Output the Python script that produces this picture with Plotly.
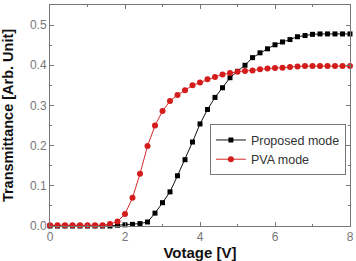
import numpy as np
import plotly.graph_objects as go

voltage = [round(0.2 * i, 1) for i in range(41)]

proposed = [0, 0, 0, 0, 0, 0, 0, 0, 0, 0.002,
            0.003, 0.004, 0.006, 0.01, 0.032, 0.058, 0.085, 0.125, 0.165, 0.209,
            0.254, 0.290, 0.320, 0.344, 0.369, 0.385, 0.400, 0.419, 0.431, 0.441,
            0.451, 0.458, 0.464, 0.471, 0.474, 0.477, 0.478, 0.478, 0.478, 0.478, 0.478]

pva = [0.002, 0.002, 0.002, 0.002, 0.002, 0.002, 0.002, 0.002, 0.005, 0.011,
       0.030, 0.070, 0.130, 0.199, 0.250, 0.286, 0.311, 0.326, 0.338, 0.350,
       0.357, 0.365, 0.371, 0.377, 0.381, 0.384, 0.386, 0.387, 0.390, 0.392,
       0.393, 0.394, 0.396, 0.397, 0.398, 0.398, 0.398, 0.398, 0.398, 0.398, 0.398]

x_ticks = [0, 2, 4, 6, 8]
y_ticks = [0.0, 0.1, 0.2, 0.3, 0.4, 0.5]
y_labels = ["0.0", "0.1", "0.2", "0.3", "0.4", "0.5"]

FONT = "Liberation Sans, Arial"

fig = go.Figure()
fig.add_trace(go.Scatter(x=voltage, y=proposed, mode="lines+markers", name="Proposed mode",
                         line=dict(color="#111111", width=1),
                         marker=dict(symbol="square", size=5, color="#000000"),
                         cliponaxis=False))
fig.add_trace(go.Scatter(x=voltage, y=pva, mode="lines+markers", name="PVA mode",
                         line=dict(color="#d62a2a", width=1),
                         marker=dict(symbol="circle", size=6, color="#d41c1c"),
                         cliponaxis=False))

axis_common = dict(showgrid=False, zeroline=False, showline=True, linecolor="#777777",
                   linewidth=1, mirror="ticks", ticks="inside", ticklen=4, tickcolor="#777777",
                   automargin=False,
                   tickfont=dict(family=FONT, size=12, color="#777777"))

fig.update_xaxes(range=[0, 8], tickvals=x_ticks,
                 minor=dict(ticks="inside", ticklen=2, dtick=1, tickcolor="#777777"),
                 title=dict(text="<b>Votage [V]</b>",
                            font=dict(family=FONT, size=15, color="#111111")),
                 **axis_common)
fig.update_yaxes(range=[0, 0.55], tickvals=y_ticks, ticktext=y_labels,
                 minor=dict(ticks="inside", ticklen=2, dtick=0.05, tickcolor="#777777"),
                 title=dict(text="<b>Transmittance [Arb. Unit]</b>",
                            font=dict(family=FONT, size=14.5, color="#111111")),
                 **axis_common)

fig.update_layout(
    width=356, height=261,
    margin=dict(l=50, r=6, t=5, b=35),
    paper_bgcolor="white", plot_bgcolor="white",
    legend=dict(x=0.533, y=0.46, xanchor="left", yanchor="top",
                bordercolor="#777777", borderwidth=1, bgcolor="white",
                font=dict(family=FONT, size=12.5, color="#333333"),
                tracegroupgap=0, itemwidth=30),
)

fig.write_html("out.html")
